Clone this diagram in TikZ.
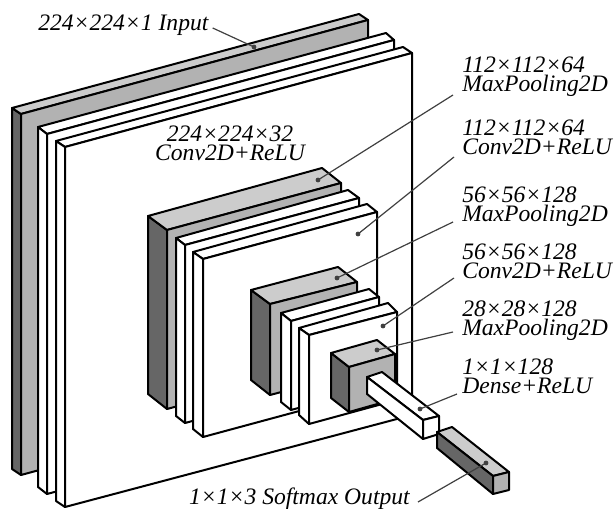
\documentclass[tikz,border=0pt]{standalone}
\usepackage{fontspec}
\setmainfont{Liberation Serif}
\begin{document}
\begin{tikzpicture}[x=0.75pt, y=-0.75pt, line join=round,
    edge/.style={draw=black, line width=1.5pt},
    dark/.style={edge, fill=black!60},
    mid/.style={edge, fill=black!30},
    light/.style={edge, fill=black!20},
    sheet/.style={edge, fill=white},
    leader/.style={draw=black!75, line width=0.9pt},
    dotmark/.style={circle, fill=black!75, inner sep=0pt, minimum size=3.6pt},
    lbl/.style={font=\fontsize{17.7}{14.25}\selectfont\itshape, align=left, inner sep=0pt}]
    \useasboundingbox (0,0) rectangle (616,509);

    % Outer stack: input and two conv sheets
    \draw[dark] (12,108) -- (21,114) -- (21,475) -- (12,469) -- cycle;
    \draw[light] (12,108) -- (359,14) -- (368,20) -- (21,114) -- cycle;
    \draw[mid] (21,114) -- (368,20) -- (368,381) -- (21,475) -- cycle;

    \draw[sheet] (38,127) -- (386,33) -- (394,40) -- (47,134) -- cycle;
    \draw[sheet] (38,127) -- (47,134) -- (47,494) -- (38,487) -- cycle;
    \draw[sheet] (47,134) -- (394,40) -- (394,400) -- (47,494) -- cycle;

    \draw[sheet] (56,141) -- (403,47) -- (412,53) -- (65,147) -- cycle;
    \draw[sheet] (56,141) -- (65,147) -- (65,507) -- (56,501) -- cycle;
    \draw[sheet] (65,147) -- (412,53) -- (412,415) -- (65,507) -- cycle;

    % Middle stack
    \draw[dark] (148,216) -- (167,230) -- (167,409) -- (148,394) -- cycle;
    \draw[light] (148,216) -- (322,168) -- (341,183) -- (167,230) -- cycle;
    \draw[mid] (167,230) -- (341,183) -- (341,362) -- (167,409) -- cycle;

    \draw[sheet] (176,238) -- (348,190) -- (359,198) -- (185,245) -- cycle;
    \draw[sheet] (176,238) -- (185,245) -- (185,423) -- (176,416) -- cycle;
    \draw[sheet] (185,245) -- (359,198) -- (359,376) -- (185,423) -- cycle;

    \draw[sheet] (193,252) -- (367,204) -- (377,212) -- (203,259) -- cycle;
    \draw[sheet] (193,252) -- (203,259) -- (203,437) -- (193,429) -- cycle;
    \draw[sheet] (203,259) -- (377,212) -- (377,390) -- (203,437) -- cycle;

    % Inner stack
    \draw[dark] (251,290) -- (270,304) -- (270,395) -- (251,380) -- cycle;
    \draw[light] (251,290) -- (338,267) -- (357,282) -- (270,304) -- cycle;
    \draw[mid] (270,304) -- (357,282) -- (357,372) -- (270,395) -- cycle;

    \draw[sheet] (281,313) -- (369,289) -- (379,297) -- (291,321) -- cycle;
    \draw[sheet] (281,313) -- (291,321) -- (291,410) -- (281,402) -- cycle;
    \draw[sheet] (291,321) -- (379,297) -- (379,386) -- (291,410) -- cycle;

    \draw[sheet] (299,328) -- (388,303) -- (397,312) -- (309,335) -- cycle;
    \draw[sheet] (299,328) -- (309,335) -- (309,424) -- (299,415) -- cycle;
    \draw[sheet] (309,335) -- (397,312) -- (397,400) -- (309,424) -- cycle;

    % Cube
    \draw[dark] (331,353) -- (349,367) -- (349,412) -- (331,398) -- cycle;
    \draw[light] (331,353) -- (377,340) -- (395,354) -- (349,367) -- cycle;
    \draw[mid] (349,367) -- (395,354) -- (395,399) -- (349,412) -- cycle;

    % Dense beam
    \draw[sheet] (367,377) -- (382,372) -- (439,416) -- (423,420) -- cycle;
    \draw[sheet] (367,377) -- (423,420) -- (423,439) -- (367,394) -- cycle;
    \draw[sheet] (423,420) -- (439,416) -- (439,434) -- (423,439) -- cycle;

    % Output beam
    \draw[light] (437,432) -- (452,427) -- (509,472) -- (493,476) -- cycle;
    \draw[dark] (437,432) -- (493,476) -- (493,494) -- (437,448) -- cycle;
    \draw[mid] (493,476) -- (509,472) -- (509,490) -- (493,494) -- cycle;

    % Labels
    \node[lbl, anchor=base west] (linput) at (38,31) {224×224×1 Input};
    \node[lbl, align=center, anchor=base] (lconva) at (230,161) {224×224×32\\Conv2D+ReLU};
    \node[lbl, anchor=base west] (lpoolb) at (462,92) {112×112×64\\MaxPooling2D};
    \node[lbl, anchor=base west] (lconvb) at (462,155) {112×112×64\\Conv2D+ReLU};
    \node[lbl, anchor=base west] (lpoolc) at (462,222) {56×56×128\\MaxPooling2D};
    \node[lbl, anchor=base west] (lconvc) at (462,278) {56×56×128\\Conv2D+ReLU};
    \node[lbl, anchor=base west] (lpoold) at (462,335) {28×28×128\\MaxPooling2D};
    \node[lbl, anchor=base west] (ldense) at (462,393) {1×1×128\\Dense+ReLU};
    \node[lbl, anchor=base east] (loutput) at (410,504) {1×1×3 Softmax Output};

    % Leader lines
    \node[dotmark] (dinput) at (254,47) {};
    \node[dotmark] (dpoolb) at (318,180) {};
    \node[dotmark] (dconvb) at (358,234) {};
    \node[dotmark] (dpoolc) at (337,278) {};
    \node[dotmark] (dconvc) at (383,326) {};
    \node[dotmark] (dpoold) at (377,350) {};
    \node[dotmark] (ddense) at (420,409) {};
    \node[dotmark] (doutput) at (486,463) {};

    \draw[leader] ([shift={(4,-3)}]linput.base east) -- (dinput.center);
    \draw[leader] ([shift={(-9,3)}]lpoolb.base west) -- (dpoolb.center);
    \draw[leader] ([shift={(-8,2)}]lconvb.base west) -- (dconvb.center);
    \draw[leader] ([shift={(-9,0)}]lpoolc.base west) -- (dpoolc.center);
    \draw[leader] ([shift={(-8,0)}]lconvc.base west) -- (dconvc.center);
    \draw[leader] ([shift={(-9,-3)}]lpoold.base west) -- (dpoold.center);
    \draw[leader] ([shift={(-5,1)}]ldense.base west) -- (ddense.center);
    \draw[leader] ([shift={(8,-2)}]loutput.base east) -- (doutput.center);
\end{tikzpicture}
\end{document}
